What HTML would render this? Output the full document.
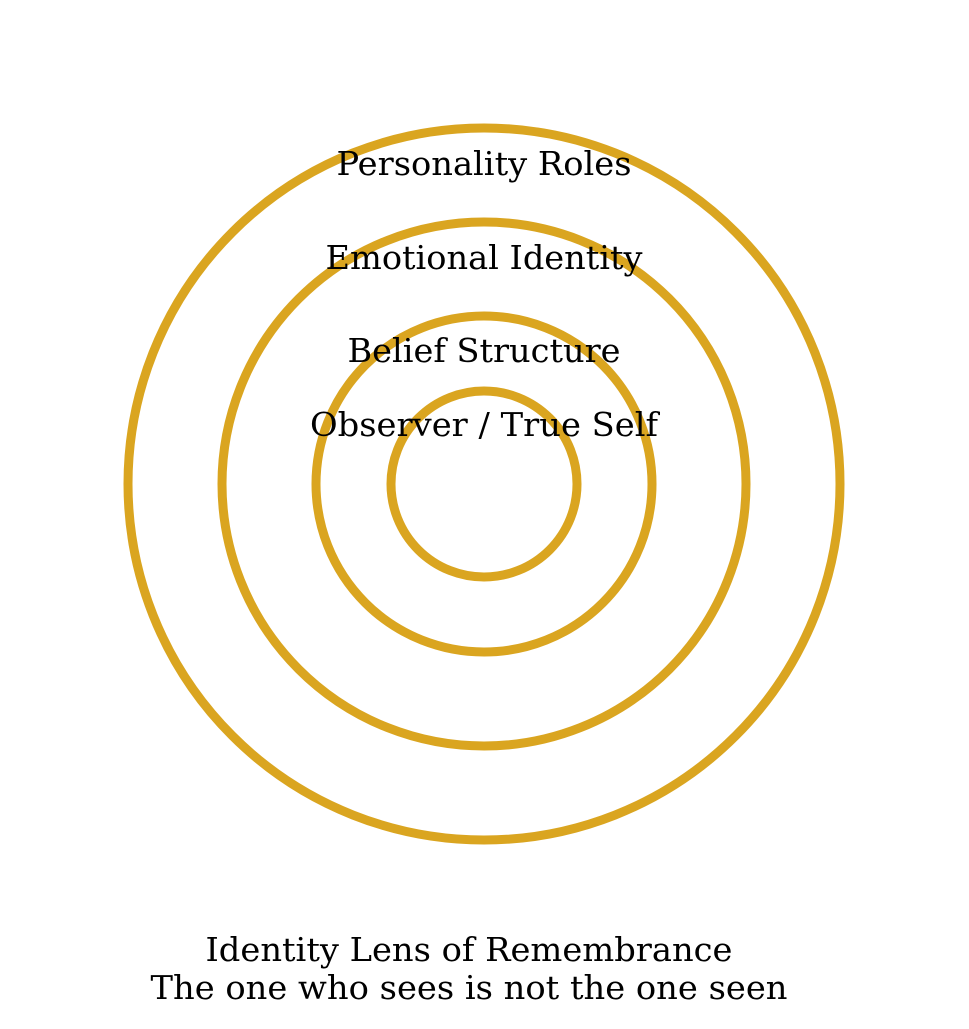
<!DOCTYPE html>
<html><head><style>html,body{margin:0;padding:0;background:#fff;}</style></head>
<body>
<svg width="969" height="1024" xmlns="http://www.w3.org/2000/svg">
<rect width="969" height="1024" fill="#fff"/>
<g fill="none" stroke="#DAA520" stroke-width="9">
<circle cx="484" cy="484" r="356"/>
<circle cx="484" cy="484" r="262"/>
<circle cx="484" cy="484" r="168"/>
<circle cx="484" cy="484" r="93"/>
</g>
<g font-family="DejaVu Serif, Liberation Serif, serif" font-size="33" fill="#000" text-anchor="middle">
<text x="484" y="175" textLength="295" lengthAdjust="spacingAndGlyphs">Personality Roles</text>
<text x="484" y="269" textLength="317" lengthAdjust="spacingAndGlyphs">Emotional Identity</text>
<text x="484" y="362" textLength="273" lengthAdjust="spacingAndGlyphs">Belief Structure</text>
<text x="484" y="436" textLength="348" lengthAdjust="spacingAndGlyphs">Observer / True Self</text>
<text x="469" y="961" textLength="527" lengthAdjust="spacingAndGlyphs">Identity Lens of Remembrance</text>
<text x="469" y="999" textLength="637" lengthAdjust="spacingAndGlyphs">The one who sees is not the one seen</text>
</g>
</svg>
</body></html>
